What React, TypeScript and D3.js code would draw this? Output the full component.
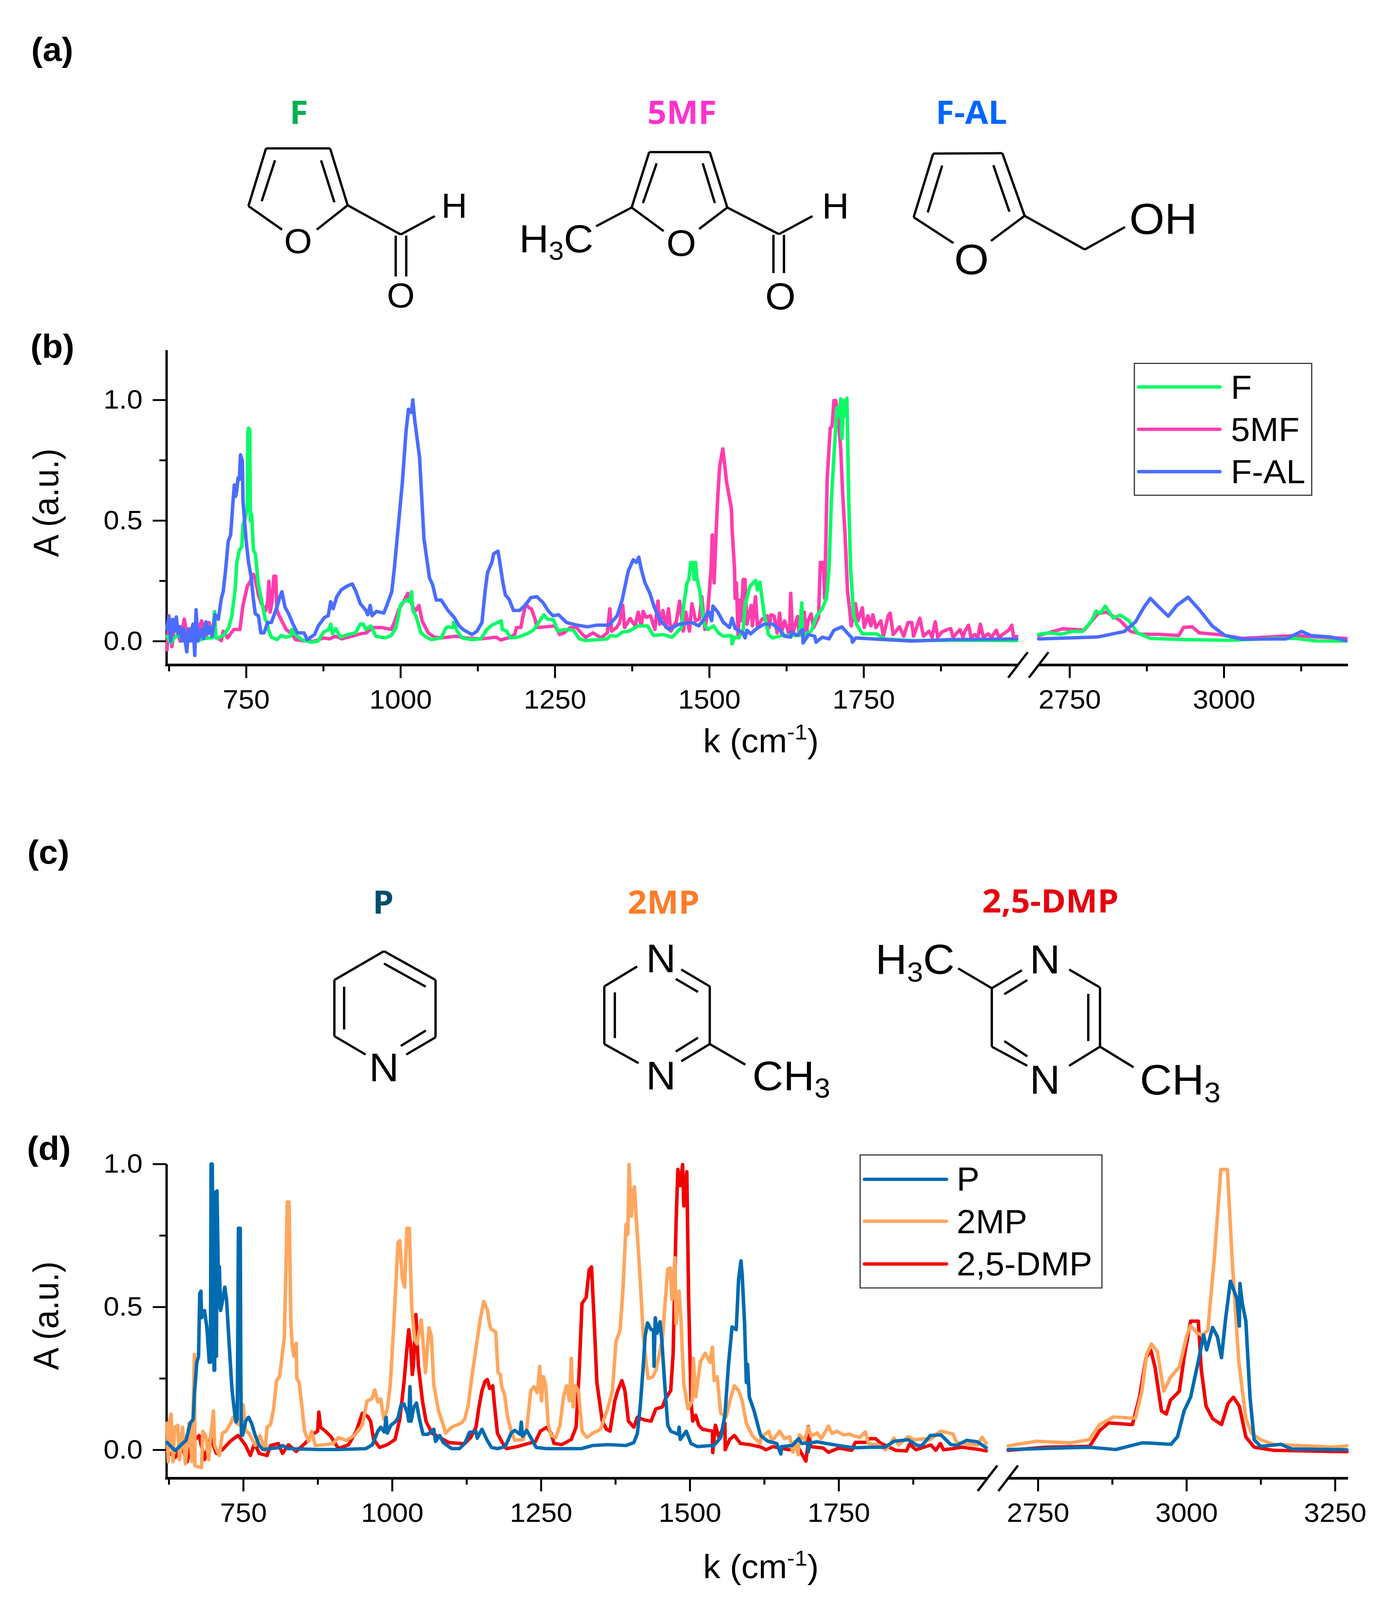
import { useRef, useEffect } from "react";
import * as d3 from "d3";

type Pt = [number, number];

// panel (b), low wavenumber part: [k, A]
const f5mfLow: Pt[] = [
  [622,-.037],[625,.105],[630,-.023],[635,.084],[643,0],[650,.091],[655,.013],[662,.056],[668,.013],[678,.084],[685,.02],[690,.077],[695,.027],[700,.02],[710,.002],[713,.041],[720,.013],[730,.048],[740,.048],[745,.148],[752,.227],[757,.248],[762,.277],[765,.255],[770,.191],[775,.155],[782,.127],[785,.163],[787,.248],[789,.12],[792,.163],[795,.269],[798,.269],[800,.127],[805,.098],[815,.048],[825,.027],[830,.006],[840,.002],[860,-.001],[875,.013],[885,.009],[895,.02],[905,.009],[915,.016],[935,.03],[945,.034],[955,.056],[970,.056],[985,.048],[990,.077],[998,.134],[1005,.163],[1012,.198],[1020,.141],[1025,.127],[1030,.148],[1035,.084],[1045,.034],[1055,.016],[1066,.013],[1090,.02],[1105,.013],[1130,.009],[1155,.016],[1162,.005],[1175,.013],[1185,.027],[1188,.056],[1195,.056],[1198,.098],[1203,.155],[1208,.138],[1212,.134],[1218,.091],[1221,.056],[1235,.059],[1250,.063],[1258,.027],[1265,.034],[1275,.056],[1285,.056],[1295,.027],[1300,.016],[1312,.034],[1325,.013],[1335,.034],[1339,.134],[1342,.041],[1350,.056],[1355,.077],[1360,.148],[1363,.056],[1372,.094],[1380,.063],[1385,.12],[1390,.063],[1393,.123],[1398,.098],[1405,.105],[1412,.048],[1417,.166],[1420,.07],[1425,.127],[1430,.056],[1434,.134],[1438,.041],[1447,.084],[1452,.166],[1458,.041],[1462,.12],[1468,.041],[1472,.155],[1478,.084],[1484,.091],[1488,.184],[1493,.048],[1498,.134],[1503,.298],[1505,.44],[1508,.241],[1511,.44],[1514,.605],[1517,.726],[1522,.797],[1525,.733],[1528,.662],[1532,.605],[1536,.548],[1537,.469],[1541,.298],[1542,.177],[1544,.241],[1547,.02],[1549,.17],[1552,.084],[1555,.255],[1558,.255],[1561,.07],[1568,.148],[1570,.063],[1575,.184],[1578,.063],[1586,.091],[1594,.105],[1597,.056],[1600,.109],[1605,.105],[1610,.034],[1614,.116],[1617,.034],[1622,.084],[1627,.048],[1630,.02],[1632,.198],[1635,.027],[1643,.102],[1646,.027],[1654,.12],[1657,.02],[1660,.084],[1665,.113],[1669,.056],[1677,.098],[1680,.326],[1685,.326],[1687,.177],[1691,.669],[1696,.883],[1699,.89],[1702,.997],[1705,.997],[1710,.89],[1713,.797],[1716,.619],[1720,.44],[1724,.205],[1727,.141],[1730,.063],[1737,.155],[1741,.084],[1748,.138],[1751,.056],[1757,.105],[1762,.063],[1765,.109],[1770,.056],[1778,.084],[1782,.02],[1790,.105],[1793,.116],[1798,.027],[1808,.059],[1815,.02],[1822,.077],[1828,.077],[1831,.02],[1841,.095],[1847,.02],[1856,.041],[1861,.016],[1866,.08],[1870,.016],[1877,.038],[1886,.048],[1891,.052],[1895,.016],[1906,.048],[1911,.016],[1914,.041],[1920,.066],[1924,.016],[1930,.027],[1935,.016],[1939,.07],[1944,.016],[1952,.03],[1957,.016],[1965,.045],[1969,.016],[1985,.045],[1990,.066],[1993,.016],[1998,.02],
];
const fLow: Pt[] = [
  [622,.02],[628,-.008],[634,.013],[640,.027],[650,0],[660,.006],[670,0],[680,.009],[690,.013],[695,.013],[699,.123],[701,.013],[705,.013],[715,.027],[722,.056],[727,.105],[732,.205],[735,.326],[739,.376],[743,.391],[745,.483],[749,.512],[752,.547],[753,.868],[754,.883],[756,.875],[757,.498],[759,.526],[762,.376],[765,.362],[770,.234],[775,.17],[781,.091],[784,.077],[786,.048],[791,.016],[800,.006],[807,.023],[815,.016],[822,.02],[824,.048],[828,.03],[840,.006],[855,-.005],[866,-.001],[876,.038],[884,.048],[887,.07],[890,.03],[895,.052],[903,.016],[915,.027],[927,.034],[935,.07],[940,.07],[944,.048],[948,.056],[952,.063],[960,.02],[975,.013],[985,.023],[993,.056],[1000,.148],[1005,.163],[1010,.17],[1015,.163],[1018,.205],[1020,.127],[1025,.105],[1033,.034],[1040,.02],[1050,.006],[1066,.013],[1074,.056],[1078,.059],[1085,.056],[1086,.077],[1092,.041],[1100,.013],[1115,.006],[1130,.009],[1140,.048],[1148,.066],[1160,.08],[1163,.084],[1165,.048],[1172,.041],[1178,.013],[1190,.016],[1205,.03],[1215,.045],[1222,.07],[1232,.109],[1238,.091],[1248,.088],[1255,.041],[1265,.048],[1280,.045],[1290,.009],[1300,.002],[1320,.006],[1335,.009],[1340,.023],[1350,.02],[1360,.038],[1370,.041],[1385,.063],[1400,.063],[1410,.023],[1425,.027],[1440,.016],[1455,.056],[1459,.155],[1464,.241],[1467,.255],[1470,.326],[1473,.326],[1476,.255],[1478,.326],[1480,.262],[1485,.205],[1489,.12],[1492,.07],[1498,.048],[1507,.063],[1515,.034],[1523,.02],[1536,.023],[1537,-.012],[1541,.016],[1548,.013],[1555,.048],[1558,.148],[1566,.227],[1575,.252],[1578,.212],[1582,.245],[1589,.113],[1596,.027],[1603,.013],[1618,.023],[1627,.023],[1646,.023],[1650,.159],[1651,.023],[1665,.041],[1674,.105],[1683,.134],[1690,.177],[1694,.298],[1698,.59],[1702,.768],[1707,.968],[1710,.933],[1713,1.004],[1715,.84],[1718,.997],[1721,.933],[1723,1.007],[1726,.583],[1729,.298],[1734,.105],[1740,.063],[1748,.03],[1771,.03],[1784,.009],[1828,.002],[1900,.003],[1998,.002],
];
const fAlLow: Pt[] = [
  [622,.05],[625,.10],[628,0],[631,.09],[634,.04],[637,.10],[640,.03],[643,.06],[646,0],[649,.05],[652,-.01],[654,-.045],[657,.05],[660,0],[664,.07],[667,-.06],[669,.13],[672,0],[675,.02],[678,.05],[681,.01],[685,.08],[688,.03],[691,.06],[695,.02],[698,.07],[700,.11],[705,.09],[710,.177],[713,.205],[717,.298],[721,.412],[725,.44],[729,.583],[731,.647],[733,.6],[735,.626],[737,.676],[739,.669],[741,.772],[744,.747],[745,.583],[750,.419],[754,.326],[758,.27],[762,.17],[765,.113],[770,.105],[774,.034],[779,.034],[785,.077],[791,.077],[800,.141],[804,.177],[808,.205],[813,.141],[819,.113],[826,.07],[833,.034],[844,.034],[849,.006],[861,.027],[867,.063],[877,.098],[883,.105],[887,.163],[891,.134],[897,.184],[904,.212],[913,.227],[922,.237],[928,.205],[935,.155],[944,.127],[947,.109],[951,.148],[954,.105],[961,.123],[973,.116],[978,.148],[986,.205],[990,.298],[997,.49],[1003,.654],[1009,.868],[1013,.961],[1018,.947],[1020,1.0],[1023,.918],[1031,.761],[1038,.426],[1047,.262],[1052,.234],[1058,.17],[1066,.17],[1077,.127],[1087,.098],[1095,.063],[1103,.045],[1116,.027],[1124,.041],[1132,.077],[1137,.205],[1141,.284],[1148,.326],[1151,.362],[1158,.373],[1161,.326],[1166,.241],[1170,.191],[1176,.173],[1183,.127],[1193,.127],[1202,.148],[1211,.18],[1221,.184],[1231,.159],[1240,.123],[1247,.105],[1256,.109],[1269,.077],[1286,.066],[1303,.059],[1318,.066],[1338,.066],[1351,.105],[1359,.17],[1369,.291],[1377,.337],[1382,.326],[1386,.348],[1390,.298],[1396,.241],[1404,.198],[1411,.141],[1421,.084],[1435,.048],[1451,.07],[1472,.077],[1483,.063],[1492,.091],[1499,.123],[1504,.084],[1506,.145],[1514,.12],[1523,.077],[1533,.056],[1537,.095],[1542,.052],[1555,.034],[1558,.013],[1561,.045],[1567,.03],[1577,.052],[1589,.07],[1603,.07],[1614,.048],[1622,.02],[1632,.016],[1633,.038],[1643,.023],[1651,.048],[1652,-.008],[1661,.027],[1671,.02],[1673,-.005],[1683,.016],[1694,.009],[1702,.045],[1715,.059],[1721,.041],[1731,.013],[1732,-.005],[1737,.013],[1765,.009],[1828,0],[1891,.006],[1998,.009],
];
// panel (b), high wavenumber part
const f5mfHigh: Pt[] = [
  [2700,.023],[2739,.051],[2774,.046],[2796,.114],[2810,.12],[2832,.085],[2849,.04],[2867,.028],[2895,.028],[2927,.023],[2935,.057],[2949,.059],[2960,.034],[2995,.026],[3030,.011],[3073,.017],[3116,.023],[3151,.017],[3198,.011],
];
const fHigh: Pt[] = [
  [2700,.028],[2718,.034],[2736,.028],[2754,.04],[2771,.04],[2786,.085],[2793,.125],[2800,.114],[2808,.145],[2821,.095],[2832,.108],[2846,.085],[2860,.034],[2881,.011],[2938,.006],[3009,.003],[3080,.011],[3116,.011],[3151,0],[3198,0],
];
const fAlHigh: Pt[] = [
  [2700,.009],[2796,.017],[2839,.04],[2857,.08],[2871,.142],[2881,.177],[2892,.148],[2910,.103],[2924,.148],[2942,.182],[2960,.131],[2981,.063],[3002,.023],[3030,.008],[3101,.009],[3126,.04],[3141,.023],[3173,.017],[3198,.002],
];

// panel (d), low wavenumber part
const dmpLow: Pt[] = [
  [622,-.006],[627,-.013],[636,-.027],[646,.015],[656,-.042],[663,.022],[676,.05],[685,-.034],[695,.043],[705,-.013],[715,0],[728,.029],[741,.05],[747,.036],[754,.015],[762,-.02],[769,.022],[777,-.013],[790,-.02],[796,.015],[809,.022],[816,-.013],[826,.018],[839,-.006],[855,.025],[868,.056],[875,.065],[877,.132],[880,.079],[888,.065],[897,.047],[910,.004],[927,.018],[940,.065],[950,.128],[959,.117],[964,.1],[969,.036],[979,.008],[992,.018],[1005,.036],[1013,.107],[1020,.235],[1025,.356],[1028,.42],[1031,.37],[1034,.263],[1036,.298],[1040,.473],[1044,.298],[1051,.171],[1057,.1],[1067,.058],[1080,.043],[1096,.025],[1116,.022],[1122,.022],[1132,.043],[1141,.079],[1146,.15],[1151,.207],[1156,.239],[1160,.246],[1164,.214],[1169,.224],[1172,.157],[1177,.058],[1184,.029],[1192,.004],[1210,.011],[1229,.022],[1241,.029],[1249,.065],[1260,.079],[1267,.058],[1272,.022],[1285,.018],[1301,.036],[1309,.079],[1314,.263],[1319,.512],[1326,.533],[1331,.629],[1335,.64],[1339,.469],[1344,.235],[1353,.1],[1360,.072],[1366,.065],[1374,.171],[1379,.207],[1386,.242],[1391,.207],[1397,.1],[1406,.079],[1412,.114],[1424,.104],[1435,.1],[1443,.143],[1454,.15],[1459,.178],[1468,.207],[1472,.334],[1477,.796],[1480,.981],[1484,.924],[1488,.998],[1490,.853],[1495,.973],[1498,.54],[1502,.171],[1505,.1],[1510,.121],[1515,.086],[1521,.072],[1538,.065],[1538.5,-.01],[1543,.086],[1549,.043],[1559,.093],[1559.5,0],[1567,.036],[1575,.05],[1585,.022],[1601,.018],[1620,.009],[1628,0],[1640,.011],[1651,.006],[1667,0],[1682,.009],[1695,-.04],[1698,.009],[1699,.081],[1703,.011],[1724,.006],[1733,-.009],[1750,.006],[1772,-.002],[1778,.026],[1797,.026],[1802,.039],[1812,.039],[1820,.024],[1833,.011],[1846,-.002],[1864,-.004],[1869,.02],[1880,0],[1905,.017],[1913,-.002],[1921,.022],[1926,0],[1942,.004],[1957,.009],[1983,.002],[1998,-.004],
];
const mp2Low: Pt[] = [
  [622,.093],[624,-.042],[626,.1],[629,.125],[632,-.042],[635,.079],[640,.086],[643,-.035],[648,.079],[653,-.049],[659,.093],[664,-.042],[668,.334],[669,-.056],[680,-.063],[682,.065],[687,.05],[692,-.035],[695,.043],[700,.136],[702,.015],[710,-.02],[715,.058],[721,.065],[729,.093],[733,.114],[739,.093],[744,.086],[750,.157],[754,.065],[760,.058],[770,.015],[778,.05],[787,-.003],[790,.079],[796,.089],[801,.143],[806,.242],[811,.256],[814,.306],[819,.391],[822,.654],[824,.867],[827,.867],[830,.455],[832,.37],[835,.327],[839,.373],[840,.249],[844,.235],[849,.143],[853,.065],[860,.029],[865,.065],[871,.015],[888,.018],[901,.022],[910,.043],[923,.033],[937,.05],[950,.086],[958,.171],[966,.178],[971,.21],[976,.167],[981,.178],[986,.107],[992,.143],[997,.228],[1003,.441],[1010,.725],[1013,.732],[1017,.604],[1021,.569],[1025,.775],[1029,.775],[1033,.498],[1038,.384],[1042,.37],[1049,.455],[1056,.27],[1062,.427],[1066,.398],[1070,.228],[1078,.136],[1085,.093],[1090,.058],[1100,.079],[1116,.093],[1122,.107],[1128,.157],[1135,.27],[1141,.356],[1148,.455],[1154,.519],[1160,.49],[1163,.448],[1166,.423],[1174,.412],[1178,.27],[1182,.263],[1184,.221],[1189,.193],[1194,.114],[1200,.065],[1206,.033],[1220,.036],[1226,.072],[1233,.207],[1238,.221],[1244,.2],[1248,.292],[1251,.171],[1254,.256],[1258,.228],[1262,.093],[1267,.05],[1275,.043],[1282,.086],[1288,.185],[1293,.224],[1298,.171],[1301,.32],[1304,.15],[1308,.224],[1313,.207],[1319,.065],[1327,.043],[1337,.058],[1350,.072],[1362,.143],[1370,.207],[1376,.377],[1383,.42],[1388,.569],[1393,.789],[1396,.754],[1398,.998],[1402,.817],[1404,.881],[1407,.92],[1410,.814],[1417,.583],[1422,.398],[1427,.299],[1430,.249],[1438,.256],[1443,.278],[1448,.327],[1454,.384],[1458,.498],[1463,.633],[1467,.636],[1470,.526],[1475,.672],[1477,.441],[1482,.555],[1485,.469],[1490,.228],[1497,.143],[1504,.171],[1506,.32],[1510,.185],[1518,.309],[1526,.338],[1534,.306],[1538,.359],[1541,.242],[1546,.256],[1552,.128],[1561,.114],[1569,.185],[1575,.224],[1582,.207],[1588,.171],[1595,.093],[1605,.05],[1618,.022],[1620,.044],[1633,.065],[1638,.03],[1651,.065],[1659,.039],[1668,.046],[1673,-.009],[1677,.03],[1682,-.018],[1684,.052],[1693,.035],[1699,.079],[1704,.048],[1714,.059],[1721,.039],[1733,.083],[1739,.057],[1747,.065],[1758,.052],[1768,.055],[1776,.048],[1786,.044],[1795,.063],[1800,.022],[1817,.017],[1829,0],[1843,.041],[1851,.017],[1867,.046],[1877,.035],[1893,.039],[1903,.035],[1921,.065],[1931,.061],[1942,.055],[1948,.026],[1965,.02],[1983,.017],[1991,.044],[1998,.022],
];
const pLow: Pt[] = [
  [622,.026],[627,.015],[636,-.003],[646,.018],[654,.033],[661,.093],[666,.107],[668,.192],[672,.306],[675,.327],[677,.547],[679,.555],[680,.462],[685,.487],[689,.427],[693,.306],[695,.306],[696,1.0],[698,1.0],[700,.512],[701,.278],[702,.278],[703,.902],[705,.327],[706,.906],[709,.498],[710,.64],[712,.487],[715,.519],[719,.569],[722,.526],[726,.384],[731,.214],[736,.121],[738,.097],[740,.107],[742,.775],[745,.775],[746,.246],[747,.051],[749,.051],[754,.1],[759,.114],[764,.093],[770,.051],[777,.015],[783,.001],[812,.008],[816,.015],[826,.004],[878,.001],[910,.001],[956,.004],[967,.018],[976,.065],[981,.079],[987,.062],[990,.114],[992,.058],[998,.086],[1005,.097],[1010,.111],[1015,.157],[1020,.16],[1026,.128],[1028,.1],[1030,.221],[1032,.1],[1036,.146],[1041,.164],[1046,.107],[1052,.054],[1060,.054],[1070,.072],[1073,.029],[1080,.05],[1086,.025],[1100,.004],[1113,.004],[1122,.022],[1130,.061],[1141,.065],[1143,.04],[1151,.072],[1159,.036],[1167,.008],[1177,.004],[1190,.011],[1200,.058],[1206,.068],[1215,.054],[1217,.097],[1219,.047],[1226,.068],[1233,.043],[1242,.008],[1259,.004],[1291,.004],[1318,.004],[1337,.015],[1363,.018],[1393,.015],[1406,.025],[1412,.057],[1417,.157],[1422,.298],[1425,.398],[1429,.444],[1435,.42],[1439,.42],[1440,.292],[1442,.462],[1445,.408],[1450,.448],[1453,.384],[1458,.228],[1463,.086],[1468,.065],[1481,.054],[1482,.079],[1484,.036],[1494,.065],[1502,.022],[1513,.011],[1536,.015],[1539,.011],[1552,.043],[1559,.121],[1565,.298],[1571,.43],[1578,.42],[1582,.597],[1586,.661],[1588,.612],[1592,.441],[1595,.235],[1597,.299],[1600,.185],[1608,.136],[1618,.057],[1620,.048],[1631,.03],[1646,.022],[1653,-.015],[1654,.011],[1672,.015],[1683,.039],[1688,.022],[1698,.024],[1699,-.007],[1702,.024],[1714,.028],[1729,.022],[1750,.015],[1776,.007],[1802,.009],[1828,.009],[1843,.03],[1867,.035],[1882,.015],[1890,.015],[1904,.05],[1922,.052],[1938,.019],[1948,.015],[1965,.033],[1983,.028],[1998,.007],
];
// panel (d), high wavenumber part
const dmpHigh: Pt[] = [
  [2700,-.002],[2763,.009],[2837,.012],[2854,.067],[2869,.094],[2909,.088],[2921,.184],[2932,.322],[2940,.349],[2947,.29],[2958,.136],[2966,.125],[2973,.173],[2988,.205],[2996,.322],[3007,.45],[3020,.45],[3025,.28],[3033,.153],[3044,.109],[3059,.088],[3070,.162],[3079,.184],[3089,.153],[3100,.045],[3114,.009],[3147,-.002],[3270,-.007],
];
const mp2High: Pt[] = [
  [2700,.014],[2748,.03],[2805,.024],[2836,.035],[2854,.088],[2877,.115],[2914,.11],[2925,.205],[2933,.333],[2941,.37],[2951,.344],[2962,.205],[2973,.253],[2988,.29],[3000,.396],[3007,.434],[3018,.408],[3027,.402],[3036,.418],[3047,.673],[3058,.981],[3069,.981],[3077,.662],[3088,.311],[3100,.109],[3110,.056],[3125,.035],[3147,.019],[3221,.012],[3243,.009],[3270,.014],
];
const pHigh: Pt[] = [
  [2700,.001],[2837,.009],[2881,.001],[2925,.024],[2933,.024],[2974,.019],[2985,.046],[2996,.136],[3007,.184],[3018,.29],[3029,.402],[3034,.349],[3044,.428],[3052,.396],[3059,.322],[3066,.46],[3074,.59],[3085,.529],[3089,.433],[3090,.582],[3094,.513],[3100,.45],[3107,.184],[3114,.035],[3125,.012],[3159,.019],[3177,.003],[3270,0],
];

const furanColors = { f: "#0cfb66", mf: "#ff3dad", al: "#4a6dff" };
const pyrColors = { p: "#006bb0", mp: "#ffa65e", dmp: "#f20000" };

const panelB = {
  series: [
    { name: "5MF", color: furanColors.mf, low: f5mfLow, high: f5mfHigh },
    { name: "F", color: furanColors.f, low: fLow, high: fHigh },
    { name: "F-AL", color: furanColors.al, low: fAlLow, high: fAlHigh },
  ],
  legendOrder: ["F", "5MF", "F-AL"],
  xLow: { domain: [621, 2000], range: [426, 2606] },
  xHigh: { domain: [2700, 3200], range: [2659, 3449] },
  y: { domain: [-0.099, 1.207], range: [1775, 934] },
  highMajor: [2750, 3000],
  highMinor: [2875, 3125],
  axisEnd: 3451,
  labelX: 1948, labelBase: 2008,
  yLabelCy: 1342,
  legend: { x0: 2904, y0: 970, x1: 3358, y1: 1322, lineX0: 2915, lineX1: 3123, textX: 3151, rows: [1033, 1146, 1259], base: [1065, 1177, 1290] },
};
const panelD = {
  series: [
    { name: "2,5-DMP", color: pyrColors.dmp, low: dmpLow, high: dmpHigh },
    { name: "2MP", color: pyrColors.mp, low: mp2Low, high: mp2High },
    { name: "P", color: pyrColors.p, low: pLow, high: pHigh },
  ],
  legendOrder: ["P", "2MP", "2,5-DMP"],
  xLow: { domain: [621, 2000], range: [426, 2528] },
  xHigh: { domain: [2700, 3270], range: [2581, 3448] },
  y: { domain: [-0.0996, 1.0], range: [3946, 3107] },
  highMajor: [2750, 3000, 3250],
  highMinor: [2875, 3125],
  axisEnd: 3451,
  labelX: 1948, labelBase: 4213,
  yLabelCy: 3512,
  legend: { x0: 2202, y0: 3083, x1: 2821, y1: 3438, lineX0: 2213, lineX1: 2423, textX: 2449, rows: [3148, 3260, 3374], base: [3178, 3292, 3405] },
};
const lowMajor = [750, 1000, 1250, 1500, 1750];
const lowMinor = [625, 875, 1125, 1375, 1625, 1875];
const yMajor = [0, 0.5, 1];
const yMinor = [0.25, 0.75];

const ARIAL = "'Liberation Sans', Arial, sans-serif";
const TITLE = "'Open Sans', sans-serif";

// molecule drawings, [x1, y1, x2, y2] in page pixels
const bonds: number[][] = [
  // F
  [681,396,845,396],[681,396,636,550],[845,396,890,548],[636,550,722,613],[890,548,811,613],[704,428,670,537],[822,428,856,540],[890,548,1026,626],[1026,626,1113,577],[1013,629,1013,738],[1040,629,1040,738],
  // 5MF
  [1662,406,1817,406],[1662,406,1617,554],[1817,406,1862,554],[1617,554,1699,617],[1862,554,1790,611],[1681,436,1646,542],[1799,436,1830,542],[1617,554,1526,604],[1862,554,1994,625],[1994,625,2080,577],[1980,627,1980,729],[2007,627,2007,729],
  // F-AL
  [2389,410,2566,409],[2389,410,2339,580],[2566,409,2623,576],[2339,580,2441,649],[2623,576,2537,643],[2412,442,2375,567],[2543,441,2584,565],[2623,576,2777,666],[2777,666,2880,606],
  // P
  [983,2539,1115,2616],[983,2539,856,2616],[1115,2616,1115,2769],[856,2616,856,2766],[1115,2769,1040,2815],[856,2766,936,2815],[881,2634,881,2748],[983,2572,1090,2634],[1090,2751,1026,2792],
  // 2MP
  [1631,2580,1547,2633],[1744,2588,1817,2633],[1730,2613,1787,2648],[1547,2633,1547,2787],[1574,2649,1574,2771],[1817,2633,1817,2787],[1817,2787,1744,2833],[1787,2770,1730,2807],[1547,2787,1635,2838],[1817,2787,1908,2842],
  // 2,5-DMP
  [2539,2638,2616,2590],[2571,2654,2630,2616],[2816,2636,2737,2588],[2816,2636,2816,2794],[2786,2653,2786,2779],[2539,2638,2539,2794],[2539,2794,2630,2845],[2571,2779,2630,2820],[2816,2794,2737,2845],[2816,2794,2902,2849],[2453,2585,2539,2638],
];

const titles = [
  { t: "F", x: 765, y: 331, c: "#00b050" },
  { t: "5MF", x: 1746, y: 331, c: "#ff33cc" },
  { t: "F-AL", x: 2487, y: 331, c: "#0066ff" },
  { t: "P", x: 981, y: 2439, c: "#004d6e" },
  { t: "2MP", x: 1699, y: 2439, c: "#ff7c2a" },
  { t: "2,5-DMP", x: 2689, y: 2436, c: "#e6000f" },
];
const panelTags = [
  { t: "(a)", x: 80, y: 163 },
  { t: "(b)", x: 78, y: 955 },
  { t: "(c)", x: 70, y: 2305 },
  { t: "(d)", x: 69, y: 3096 },
];
const atoms = [
  { t: "H", x: 1163, y: 581, s: 92 },
  { t: "O", x: 763, y: 676, s: 92 },
  { t: "O", x: 1026, y: 821, s: 92 },
  { t: "H", x: 2139, y: 584, s: 96 },
  { t: "O", x: 1744, y: 683, s: 98 },
  { t: "O", x: 1998, y: 826, s: 100 },
  { t: "O", x: 2487, y: 732, s: 114 },
  { t: "OH", x: 2978, y: 625, s: 116 },
  { t: "N", x: 983, y: 2886, s: 106 },
  { t: "N", x: 1692, y: 2595, s: 106 },
  { t: "N", x: 1692, y: 2908, s: 106 },
  { t: "N", x: 2675, y: 2599, s: 108 },
  { t: "N", x: 2675, y: 2920, s: 108 },
];
// formulas with a subscript 3
const formulas = [
  { a: "H", b: "C", x: 1329, y: 674, s: 105 },
  { a: "C", b: "H", x: 1926, y: 2910, s: 110, tail: true },
  { a: "C", b: "H", x: 2918, y: 2922, s: 114, tail: true },
  { a: "H", b: "C", x: 2241, y: 2600, s: 112 },
];

function drawPanel(g: d3.Selection<SVGGElement, unknown, null, undefined>, p: typeof panelB) {
  const xLow = d3.scaleLinear().domain(p.xLow.domain).range(p.xLow.range);
  const xHigh = d3.scaleLinear().domain(p.xHigh.domain).range(p.xHigh.range);
  const y = d3.scaleLinear().domain(p.y.domain).range(p.y.range);
  const base = p.y.range[0];
  const left = p.xLow.range[0];

  const axisStyle = (sel: d3.Selection<SVGGElement, unknown, null, undefined>) => {
    sel.selectAll("line").attr("stroke", "#000").attr("stroke-width", 5);
    sel
      .selectAll("text")
      .attr("fill", "#000")
      .style("font-family", ARIAL)
      .style("font-size", "72px");
  };

  // x axes: major with labels, minor without
  const xAxes: [d3.ScaleLinear<number, number>, number[], number[]][] = [
    [xLow, lowMajor, lowMinor],
    [xHigh, p.highMajor, p.highMinor],
  ];
  xAxes.forEach(([sc, major, minor]) => {
    g.append("g")
      .attr("transform", `translate(0,${base})`)
      .call(d3.axisBottom(sc).tickValues(major).tickSize(35).tickPadding(30).tickSizeOuter(0).tickFormat(d3.format("d")))
      .call(axisStyle)
      .call((s) => s.select(".domain").remove());
    g.append("g")
      .attr("transform", `translate(0,${base})`)
      .call(d3.axisBottom(sc).tickValues(minor).tickSize(17).tickSizeOuter(0).tickFormat(() => ""))
      .call(axisStyle)
      .call((s) => s.select(".domain").remove());
  });

  // y axis
  g.append("g")
    .attr("transform", `translate(${left},0)`)
    .call(d3.axisLeft(y).tickValues(yMajor).tickSize(35).tickPadding(26).tickSizeOuter(0).tickFormat(d3.format(".1f")))
    .call(axisStyle)
    .call((s) => s.select(".domain").attr("stroke", "#000").attr("stroke-width", 6));
  g.append("g")
    .attr("transform", `translate(${left},0)`)
    .call(d3.axisLeft(y).tickValues(yMinor).tickSize(18).tickSizeOuter(0).tickFormat(() => ""))
    .call(axisStyle)
    .call((s) => s.select(".domain").remove());

  // baseline pieces and the two break slashes
  const breakA = xLow(2000);
  const breakB = xHigh(p.xHigh.domain[0]);
  g.append("line").attr("x1", left - 3).attr("x2", breakA).attr("y1", base).attr("y2", base).attr("stroke", "#000").attr("stroke-width", 7);
  g.append("line").attr("x1", breakB).attr("x2", p.axisEnd).attr("y1", base).attr("y2", base).attr("stroke", "#000").attr("stroke-width", 7);
  [breakA, breakB].forEach((bx) => {
    g.append("line")
      .attr("x1", bx - 25).attr("y1", base + 34).attr("x2", bx + 25).attr("y2", base - 34)
      .attr("stroke", "#000").attr("stroke-width", 6);
  });

  // traces
  p.series.forEach((s) => {
    const pieces: [Pt[], d3.ScaleLinear<number, number>][] = [
      [s.low, xLow],
      [s.high, xHigh],
    ];
    pieces.forEach(([pts, sc]) => {
      const line = d3.line<Pt>().x((d) => sc(d[0])).y((d) => y(d[1]));
      g.append("path")
        .attr("d", line(pts))
        .attr("fill", "none")
        .attr("stroke", s.color)
        .attr("stroke-width", 9)
        .attr("stroke-linejoin", "round")
        .attr("stroke-linecap", "round");
    });
  });

  // axis titles
  g.append("text")
    .attr("transform", `translate(149,${p.yLabelCy}) rotate(-90)`)
    .attr("text-anchor", "middle")
    .style("font-family", ARIAL)
    .style("font-size", "90px")
    .text("A (a.u.)");
  const xl = g.append("text")
    .attr("x", p.labelX)
    .attr("y", p.labelBase)
    .attr("text-anchor", "middle")
    .style("font-family", ARIAL)
    .style("font-size", "88px");
  xl.append("tspan").text("k (cm");
  xl.append("tspan").attr("dy", -34).style("font-size", "58px").text("-1");
  xl.append("tspan").attr("dy", 34).text(")");

  // legend
  const lg = p.legend;
  g.append("rect")
    .attr("x", lg.x0).attr("y", lg.y0)
    .attr("width", lg.x1 - lg.x0).attr("height", lg.y1 - lg.y0)
    .attr("fill", "#fff").attr("stroke", "#333").attr("stroke-width", 3);
  p.legendOrder.forEach((name, i) => {
    const s = p.series.find((d) => d.name === name)!;
    g.append("line")
      .attr("x1", lg.lineX0).attr("x2", lg.lineX1)
      .attr("y1", lg.rows[i]).attr("y2", lg.rows[i])
      .attr("stroke", s.color).attr("stroke-width", 9).attr("stroke-linecap", "round");
    g.append("text")
      .attr("x", lg.textX).attr("y", lg.base[i])
      .style("font-family", ARIAL).style("font-size", "88px")
      .text(name);
  });
}

export default function App() {
  const ref = useRef<SVGGElement | null>(null);

  useEffect(() => {
    const g = d3.select(ref.current!);
    g.selectAll("*").remove();
    drawPanel(g.append("g"), panelB);
    drawPanel(g.append("g"), panelD);
  }, []);

  // the photo only holds the visible page, so fit the whole figure into it
  const pageHeight = Math.min(4271, window.innerHeight);

  return (
    <svg
      width={3561}
      height={pageHeight}
      viewBox="0 0 3561 4271"
      preserveAspectRatio="none"
      style={{ display: "block", margin: "-8px 0 -8px -8px", background: "#fff" }}
    >
      {bonds.map((b, i) => (
        <line key={i} x1={b[0]} y1={b[1]} x2={b[2]} y2={b[3]} stroke="#000" strokeWidth={6} />
      ))}
      {atoms.map((a, i) => (
        <text key={i} x={a.x} y={a.y} textAnchor="middle" fontFamily={ARIAL} fontSize={a.s}>
          {a.t}
        </text>
      ))}
      {formulas.map((f, i) => (
        <text key={i} x={f.x} y={f.y} fontFamily={ARIAL} fontSize={f.s}>
          {f.tail ? (
            <>
              {f.a}
              {f.b}
              <tspan dy={f.s * 0.18} fontSize={f.s * 0.66}>3</tspan>
            </>
          ) : (
            <>
              {f.a}
              <tspan dy={f.s * 0.18} fontSize={f.s * 0.66}>3</tspan>
              <tspan dy={-f.s * 0.18}>{f.b}</tspan>
            </>
          )}
        </text>
      ))}
      {titles.map((t) => (
        <text key={t.t} x={t.x} y={t.y} textAnchor="middle" fontFamily={TITLE} fontWeight={700} fontSize={86} fill={t.c}>
          {t.t}
        </text>
      ))}
      {panelTags.map((t) => (
        <text key={t.t} x={t.x} y={t.y} fontFamily={ARIAL} fontWeight={700} fontSize={88}>
          {t.t}
        </text>
      ))}
      <g ref={ref} />
    </svg>
  );
}
